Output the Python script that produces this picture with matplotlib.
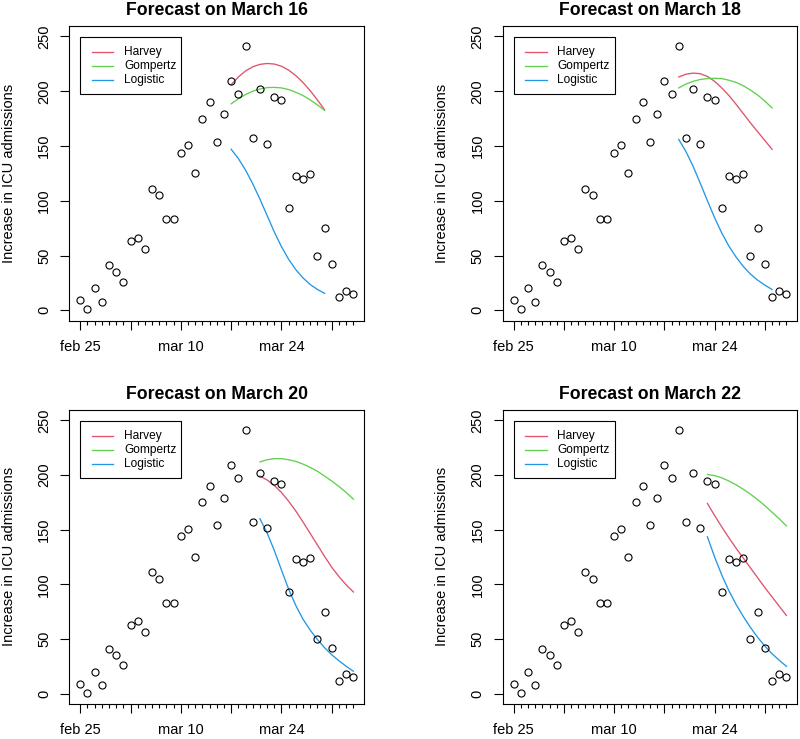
import numpy as np
import matplotlib
matplotlib.use("Agg")
import matplotlib.pyplot as plt
import matplotlib.dates as mdates
from matplotlib.lines import Line2D
from matplotlib.patches import Rectangle

plt.rcParams['font.family'] = ['Liberation Sans', 'DejaVu Sans']

# ---------------- data ----------------
dates = np.arange(np.datetime64('2020-02-25'), np.datetime64('2020-04-04'))
admissions = [9, 1, 20, 8, 41, 35, 26, 63, 66, 56, 111, 105, 83, 83, 144, 151, 125,
              175, 190, 154, 179, 209, 197, 241, 157, 202, 152, 195, 192, 93, 123,
              120, 124, 50, 75, 42, 12, 18, 15]

titles = ["Forecast on March 16", "Forecast on March 18",
          "Forecast on March 20", "Forecast on March 22"]
forecast_start = ['2020-03-17', '2020-03-19', '2020-03-21', '2020-03-23']
model_names = ["Harvey", "Gompertz", "Logistic"]
model_colors = ["#DF536B", "#61D04F", "#2297E6"]

harvey_mar16 = [206, 213, 218.5, 222.3, 224.5, 225.3, 224.8, 222.8, 219.2, 214.2, 207.9, 200.4, 192, 183]
gompertz_mar16 = [188.5, 193, 197, 200, 202, 203.3, 203.5, 203, 201.5, 199, 196, 192, 187.5, 182.5]
logistic_mar16 = [147, 138.5, 128, 115.5, 101.5, 86.5, 71.5, 58, 46.5, 37, 29.5, 23.5, 19, 15.5]

harvey_mar18 = [213, 215.5, 216.5, 216, 213.5, 209, 203, 196, 188, 179.5, 171, 163, 155, 147]
gompertz_mar18 = [203, 206.5, 209, 210.7, 211.5, 211.8, 211.5, 210, 208, 205, 201, 196.5, 191, 184.7]
logistic_mar18 = [156, 145, 131.5, 116, 100, 84.5, 70.5, 58.5, 48.5, 40, 33, 27.5, 23, 19]

harvey_mar20 = [199, 195.5, 190.5, 184, 176, 167, 157, 146.5, 136, 125.5, 115.5, 107, 99.5, 93]
gompertz_mar20 = [212, 214, 215, 215, 214, 212.5, 210, 207, 203.5, 199, 194.5, 189.5, 184, 178]
logistic_mar20 = [160, 147, 131, 113, 95.5, 80.5, 68, 58, 49.5, 42, 35.5, 30, 25, 20.5]

harvey_mar22 = [174, 163, 152.5, 142.5, 133, 124, 115, 106, 97, 88.5, 80, 71.5]
gompertz_mar22 = [200.5, 199.5, 197.5, 194.5, 191, 187, 182.5, 177.5, 172, 166, 160, 153.5]
logistic_mar22 = [143.5, 125, 108.5, 94, 81.5, 70.5, 60.5, 51.5, 43.5, 36.5, 30.5, 25]

forecasts = [
    [harvey_mar16, gompertz_mar16, logistic_mar16],
    [harvey_mar18, gompertz_mar18, logistic_mar18],
    [harvey_mar20, gompertz_mar20, logistic_mar20],
    [harvey_mar22, gompertz_mar22, logistic_mar22],
]

xtick_dates = ['2020-02-25', '2020-03-03', '2020-03-10', '2020-03-17', '2020-03-24', '2020-03-31']
xtick_labels = ["feb 25", "", "mar 10", "", "mar 24", ""]
yticks = [0, 50, 100, 150, 200, 250]

# ---------------- figure ----------------
W, H = 800, 739
fig = plt.figure(figsize=(W / 100, H / 100), dpi=100)

# axes boxes in pixel coords (left, top, right, bottom)
boxes = [(69.3, 25.7, 364.3, 320.7), (502.7, 25.7, 797.3, 320.7),
         (69.3, 409.7, 364.3, 704.0), (502.7, 409.7, 797.3, 704.0)]

day = np.timedelta64(1, 'D')
x0 = mdates.date2num(dates[0])
x1 = mdates.date2num(dates[-1])

for i in range(4):
    l, t, r, b = boxes[i]
    ax = fig.add_axes([l / W, 1 - b / H, (r - l) / W, (b - t) / H])
    ax.plot(dates, admissions, linestyle='none', marker='o', ms=5.1,
            mfc='none', mec='black', mew=0.8, zorder=3)
    start = np.datetime64(forecast_start[i])
    for vals, col in zip(forecasts[i], model_colors):
        fx = start + np.arange(len(vals)) * day
        ax.plot(fx, vals, color=col, lw=0.95, zorder=2, solid_joinstyle='round')

    ax.set_xlim(x0 - 1.52, x1 + 1.52)
    ax.set_ylim(-9.5, 259.8)

    ax.set_xticks([mdates.date2num(np.datetime64(d)) for d in xtick_dates])
    ax.set_xticklabels(xtick_labels)
    ax.set_xticks(mdates.date2num(dates), minor=True)
    ax.set_yticks(yticks)
    ax.set_yticklabels([str(v) for v in yticks])
    for lbl in ax.get_yticklabels():
        lbl.set_rotation(90)
        lbl.set_va('center')

    ax.tick_params(axis='x', which='major', length=6.3, width=0.8, pad=7.5,
                   labelsize=10.5, colors='black')
    ax.tick_params(axis='x', which='minor', length=3.1, width=0.8)
    ax.tick_params(axis='y', which='major', length=6.5, width=0.8, pad=6.5,
                   labelsize=10.5, colors='black')
    for sp in ax.spines.values():
        sp.set_linewidth(0.8)
        sp.set_color('black')

    ax.set_ylabel("Increase in ICU admissions", fontsize=10.5, va='center')
    ax.yaxis.set_label_coords(-0.205, 0.5)
    ax.set_title(titles[i], fontsize=12.7, fontweight='bold', y=1.053, va='center', pad=0)

    # legend box (R style)
    pw = r - l
    ph = b - t
    lx0 = 11.0 / pw
    ly_top = 1 - 11.0 / ph
    lw_ = 101.0 / pw
    lh_ = 57.5 / ph
    ax.add_patch(Rectangle((lx0, ly_top - lh_), lw_, lh_, transform=ax.transAxes,
                           fill=False, edgecolor='black', lw=0.8, zorder=5))
    for k, (name, col) in enumerate(zip(model_names, model_colors)):
        yy = ly_top - (15.0 + 14.3 * k) / ph
        ax.add_line(Line2D([22.4 / pw, 44.0 / pw], [yy, yy], transform=ax.transAxes,
                           color=col, lw=0.95, zorder=5))
        ax.text(54.7 / pw, yy, name, transform=ax.transAxes, fontsize=8.6,
                va='center', ha='left', zorder=5)

fig.savefig("out.png", dpi=100)
